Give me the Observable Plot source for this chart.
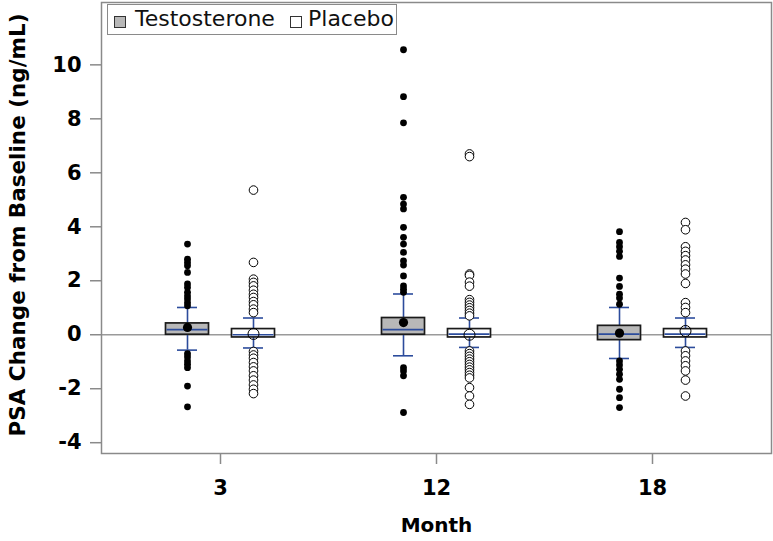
<!DOCTYPE html>
<html>
<head>
<meta charset="utf-8">
<script src="https://cdn.jsdelivr.net/npm/d3@7"></script>
<script src="https://cdn.jsdelivr.net/npm/@observablehq/plot@0.6"></script>
<style>
  html, body { margin: 0; padding: 0; background: white; }
  #wrap { position: relative; width: 773px; height: 541px; }
  #legend {
    position: absolute; left: 107px; top: 4px; width: 290px; height: 31px;
    border: 1.5px solid #8a8a8a; background: white; box-sizing: border-box;
    font-family: "DejaVu Sans", sans-serif; font-size: 22px; color: #111;
  }
  .sw { position: absolute; top: 11px; width: 12px; height: 12px; box-sizing: border-box; border: 1px solid #333; }
  .lab { position: absolute; top: 1px; line-height: 26px; white-space: nowrap; }
</style>
</head>
<body>
<div id="wrap">
  <div id="chart"></div>
  <div id="legend">
    <span class="sw" style="left:6px;background:#b8b8b8"></span><span class="lab" style="left:27px">Testosterone</span>
    <span class="sw" style="left:182px;background:#ffffff"></span><span class="lab" style="left:200px">Placebo</span>
  </div>
</div>
<script>
const months = ["3", "12", "18"];
const groups = ["Testosterone", "Placebo"];
const yTicks = [-4, -2, 0, 2, 4, 6, 8, 10];

// Testosterone box statistics (per month)
const testQ1     = [0.00, 0.00, -0.20];
const testMedian = [0.19, 0.19, 0.02];
const testQ3     = [0.42, 0.62, 0.33];
const testMean   = [0.27, 0.45, 0.06];
const testLow    = [-0.57, -0.78, -0.88];
const testHigh   = [1.01, 1.51, 1.01];

// Placebo box statistics (per month)
const placQ1     = [-0.10, -0.10, -0.10];
const placMedian = [0.00, 0.02, 0.02];
const placQ3     = [0.21, 0.21, 0.21];
const placMean   = [0.03, 0.00, 0.14];
const placLow    = [-0.49, -0.47, -0.47];
const placHigh   = [0.62, 0.62, 0.62];

// Outliers
const testOut3  = [3.36, 2.80, 2.68, 2.56, 2.31, 1.88, 1.75, 1.57, 1.44, 1.32, 1.19, 1.07,
                   -0.70, -0.82, -0.97, -1.09, -1.22, -1.90, -2.67];
const testOut12 = [10.56, 8.82, 7.85, 5.09, 4.84, 4.66, 3.98, 3.61, 3.36, 3.05, 2.74, 2.58,
                   2.18, 1.81, 1.69, 1.57, -1.22, -1.34, -1.52, -2.88];
const testOut18 = [3.82, 3.42, 3.26, 3.09, 2.90, 2.10, 1.79, 1.50, 1.36, 1.13,
                   -0.97, -1.12, -1.28, -1.46, -1.65, -2.02, -2.33, -2.70];
const placOut3  = [5.36, 2.68, 2.06, 1.94, 1.81, 1.65, 1.50, 1.38, 1.23, 1.11, 0.95, 0.82,
                   -0.62, -0.75, -0.87, -1.03, -1.19, -1.34, -1.52, -1.68, -1.86, -2.02, -2.18];
const placOut12 = [6.70, 6.60, 2.25, 2.20, 1.95, 1.80, 1.30, 1.20, 1.10, 1.00, 0.90, 0.80, 0.70,
                   -0.60, -0.70, -0.80, -0.90, -1.00, -1.10, -1.20, -1.30, -1.40, -1.50, -1.60,
                   -1.96, -2.27, -2.58];
const placOut18 = [4.16, 3.89, 3.26, 3.09, 2.93, 2.77, 2.59, 2.43, 2.25, 1.90, 1.19, 1.01, 0.82,
                   -0.60, -0.78, -0.97, -1.15, -1.34, -1.68, -2.27];

const stats = months.flatMap((m, i) => [
  {month: m, group: "Testosterone", q1: testQ1[i], med: testMedian[i], q3: testQ3[i], mean: testMean[i], lo: testLow[i], hi: testHigh[i]},
  {month: m, group: "Placebo", q1: placQ1[i], med: placMedian[i], q3: placQ3[i], mean: placMean[i], lo: placLow[i], hi: placHigh[i]}
]);
const testOut = [testOut3, testOut12, testOut18];
const placOut = [placOut3, placOut12, placOut18];
const outliers = months.flatMap((m, i) => [
  ...testOut[i].map(v => ({month: m, group: "Testosterone", v})),
  ...placOut[i].map(v => ({month: m, group: "Placebo", v}))
]);

const blue = "#2c4c9c";
const off = {Testosterone: -33, Placebo: 33};
const fillOf = {Testosterone: "#b8b8b8", Placebo: "#ffffff"};

function groupMarks(g) {
  const s = stats.filter(d => d.group === g);
  const o = outliers.filter(d => d.group === g);
  const dx = off[g];
  const filled = g === "Testosterone";
  return [
    Plot.ruleX(s, {x: "month", y1: "lo", y2: "hi", stroke: blue, strokeWidth: 1.6, dx}),
    Plot.tickY(s, {x: "month", y: "lo", stroke: blue, strokeWidth: 1.6, insetLeft: 98, insetRight: 98, dx}),
    Plot.tickY(s, {x: "month", y: "hi", stroke: blue, strokeWidth: 1.6, insetLeft: 98, insetRight: 98, dx}),
    Plot.barY(s, {x: "month", y1: "q1", y2: "q3", fill: fillOf[g], stroke: "#1a1a1a", strokeWidth: 1.7, insetLeft: 86.5, insetRight: 86.5, dx}),
    Plot.tickY(s, {x: "month", y: "med", stroke: blue, strokeWidth: 1.7, insetLeft: 87.5, insetRight: 87.5, dx}),
    Plot.dot(o, {x: "month", y: "v", r: filled ? 3.4 : 4.3, fill: filled ? "black" : "white", stroke: "black", strokeWidth: filled ? 0 : 1, dx}),
    Plot.dot(s, {x: "month", y: "mean", r: filled ? 4.6 : 5.5, fill: filled ? "black" : "none", stroke: "black", strokeWidth: filled ? 0 : 1, dx})
  ];
}

const chart = Plot.plot({
  width: 773,
  height: 541,
  marginLeft: 101,
  marginRight: 2,
  marginTop: 2,
  marginBottom: 88,
  x: {domain: months, paddingInner: 0, paddingOuter: 0.045, axis: null},
  y: {domain: [-4.40, 12.31], axis: null},
  style: {fontFamily: "DejaVu Sans, sans-serif", fontSize: "20px", fontWeight: "bold", background: "white", color: "black"},
  marks: [
    Plot.ruleY([0], {stroke: "#9a9a9a", strokeWidth: 1.5}),
    ...groupMarks("Testosterone"),
    ...groupMarks("Placebo"),
    Plot.frame({stroke: "#8a8a8a", strokeWidth: 1.5}),
    Plot.axisY(yTicks, {tickSize: 11, tickPadding: 9, tickFormat: d => String(d), stroke: "#8a8a8a", strokeWidth: 1.5, fill: "black", fontSize: 21, fontWeight: "bold", label: null}),
    Plot.axisX({tickSize: 11, tickPadding: 16, stroke: "#8a8a8a", strokeWidth: 1.5, fill: "black", fontSize: 21, fontWeight: "bold", label: null}),
    Plot.text(["Month"], {frameAnchor: "bottom", dy: 78, text: d => d, fontSize: 20, fontWeight: "bold"}),
    Plot.text(["PSA Change from Baseline (ng/mL)"], {frameAnchor: "left", textAnchor: "middle", dx: -83, dy: -3, rotate: -90, text: d => d, fontSize: 21.5, fontWeight: "bold"})
  ]
});
document.getElementById("chart").appendChild(chart);
</script>
</body>
</html>
